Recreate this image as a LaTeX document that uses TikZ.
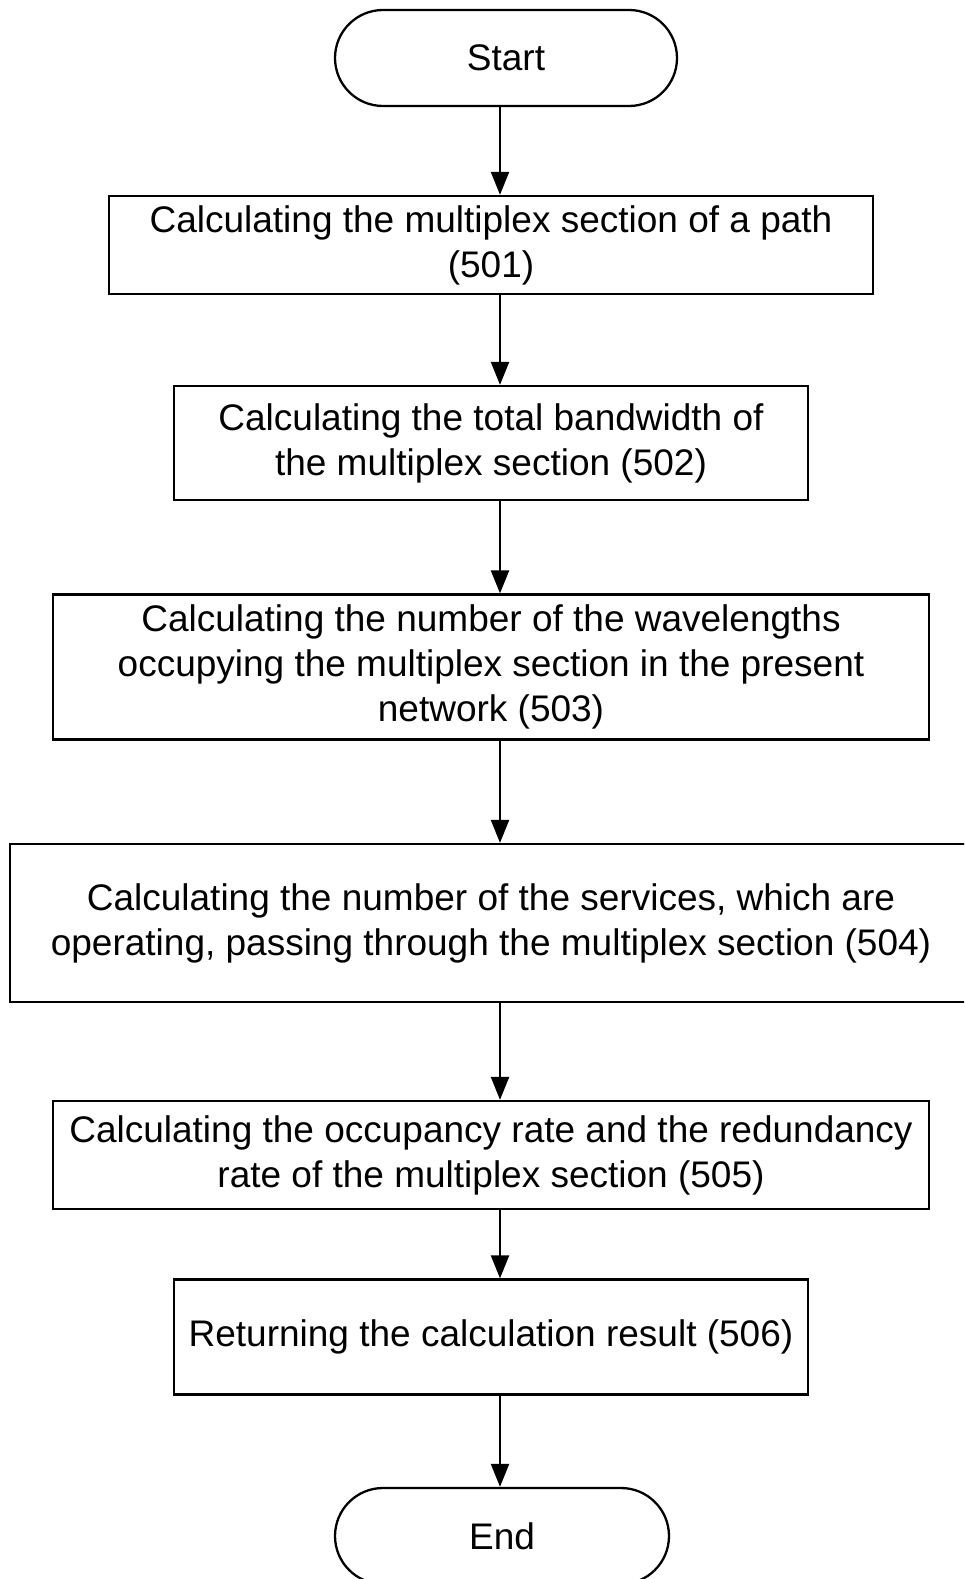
\documentclass[tikz,border=0pt]{standalone}
\usepackage{fontspec}
\setmainfont{Liberation Sans}
\usetikzlibrary{arrows.meta}
\begin{document}
\begin{tikzpicture}[x=1pt, y=-1pt,
					>={Triangle[length=23pt,width=18pt]},   % Pfeilspitzen
					font=\fontsize{37}{45}\selectfont, line width=2.3pt,
					stepbox/.style 2 args={draw, align=center, inner sep=0pt, minimum width=#1, minimum height=#2},
					terminal/.style={draw, rounded corners=48pt, minimum width=342pt, minimum height=96pt}]
					% Bildbereich
					\useasboundingbox (0,0) rectangle (964,1579);
					\clip (0,0) rectangle (964,1579);
					% Achse der Pfeile
					\coordinate (axis) at (500,0);
					% Knoten
					\node[terminal] (start) at (506,58) {Start};
					\node[stepbox={764pt}{98pt}] (s501) at (491,245) {Calculating the multiplex section of a path\\(501)};
					\node[stepbox={634pt}{114pt}] (s502) at (491,443) {Calculating the total bandwidth of\\the multiplex section (502)};
					\node[stepbox={876pt}{145pt}] (s503) at (491,667) {Calculating the number of the wavelengths\\occupying the multiplex section in the present\\network (503)};
					\node[stepbox={962pt}{158pt}] (s504) at (491,923) {Calculating the number of the services, which are\\operating, passing through the multiplex section (504)};
					\node[stepbox={876pt}{108pt}] (s505) at (491,1155) {Calculating the occupancy rate and the redundancy\\rate of the multiplex section (505)};
					\node[stepbox={634pt}{115pt}] (s506) at (491,1337) {Returning the calculation result (506)};
					\node[terminal, minimum width=334pt] (end) at (502,1536) {End};
					% Pfeile
					\foreach \a/\b in {start/s501, s501/s502, s502/s503, s503/s504, s504/s505, s505/s506, s506/end}
						\draw[->] (\a.south -| axis) -- (\b.north -| axis);
				\end{tikzpicture}
\end{document}
